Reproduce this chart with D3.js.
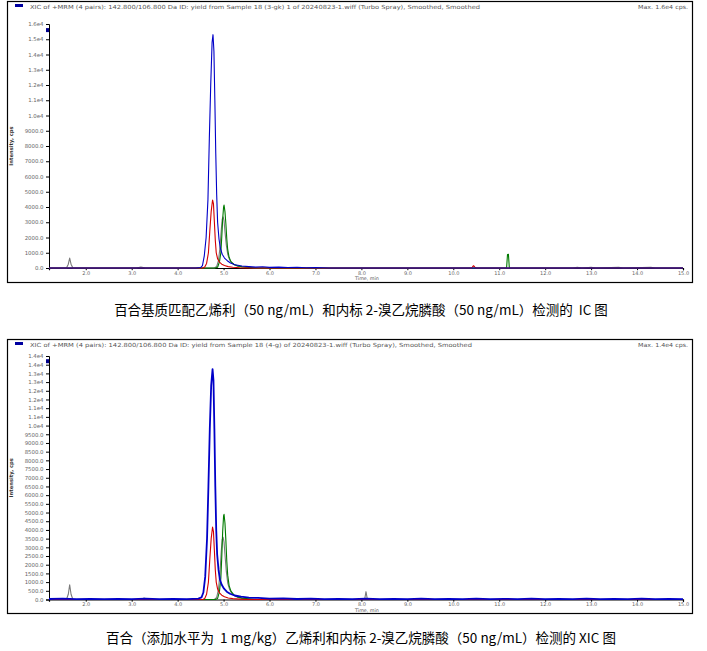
<!DOCTYPE html>
<html><head><meta charset="utf-8">
<script src="https://cdn.jsdelivr.net/npm/d3@7"></script>
<style>body{margin:0;background:#fff}svg{display:block}.cap{white-space:pre}</style>
</head><body>
<svg id="c" width="707" height="651"></svg>
<script>
// ---------- data (time in min, intensity in cps) ----------
const xTickValues = [2,3,4,5,6,7,8,9,10,11,12,13,14,15];
const xTickLabels = ["2.0","3.0","4.0","5.0","6.0","7.0","8.0","9.0","10.0","11.0","12.0","13.0","14.0","15.0"];

const topYTicks = [0,1000,2000,3000,4000,5000,6000,7000,8000,9000,10000,11000,12000,13000,14000,15000,16000];
const topYLabels = ["0.0","1000.0","2000.0","3000.0","4000.0","5000.0","6000.0","7000.0","8000.0","9000.0","1.0e4","1.1e4","1.2e4","1.3e4","1.4e4","1.5e4","1.6e4"];
const botYTicks = [0,500,1000,1500,2000,2500,3000,3500,4000,4500,5000,5500,6000,6500,7000,7500,8000,8500,9000,9500,10000,10500,11000,11500,12000,12500,13000,13500,14000];
const botYLabels = ["0.0","500.0","1000.0","1500.0","2000.0","2500.0","3000.0","3500.0","4000.0","4500.0","5000.0","5500.0","6000.0","6500.0","7000.0","7500.0","8000.0","8500.0","9000.0","9500.0","1.0e4","1.1e4","1.1e4","1.2e4","1.2e4","1.3e4","1.3e4","1.4e4","1.4e4"];

const headerTexts = [
  "XIC of +MRM (4 pairs): 142.800/106.800 Da ID: yield from Sample 18 (3-gk) 1 of 20240823-1.wiff (Turbo Spray), Smoothed, Smoothed",
  "XIC of +MRM (4 pairs): 142.800/106.800 Da ID: yield from Sample 18 (4-g) of 20240823-1.wiff (Turbo Spray), Smoothed, Smoothed"
];
const maxTexts = ["Max. 1.6e4 cps.", "Max. 1.4e4 cps."];
const maxMarkers = [15600, 13700];
const captions = [
  "百合基质匹配乙烯利（50 ng/mL）和内标 2-溴乙烷膦酸（50 ng/mL）检测的  IC 图",
  "百合（添加水平为  1 mg/kg）乙烯利和内标 2-溴乙烷膦酸（50 ng/mL）检测的 XIC 图"
];

// top panel traces
const topBlue = [[1.2,0],[4.40,0],[4.50,30],[4.54,150],[4.58,800],[4.62,2000],[4.66,4500],[4.69,8500],[4.72,12000],[4.75,14800],[4.77,15300],[4.79,14200],[4.81,11000],[4.83,7500],[4.85,4800],[4.87,3000],[4.90,1900],[4.93,1300],[4.97,900],[5.02,650],[5.08,480],[5.15,330],[5.25,210],[5.40,130],[5.55,90],[5.70,60],[5.85,80],[6.0,40],[6.2,60],[6.4,30],[6.6,50],[6.8,20],[7.0,30],[7.3,0],[15,0]];
const topRed = [[1.2,0],[4.55,0],[4.59,60],[4.63,300],[4.67,1000],[4.70,2400],[4.73,3700],[4.76,4460],[4.78,4200],[4.80,3000],[4.82,1800],[4.84,1000],[4.87,600],[4.91,380],[4.96,250],[5.02,160],[5.10,90],[5.20,50],[5.35,20],[5.5,0],[10.40,0],[10.44,150],[10.47,60],[10.50,0],[15,0]];
const topGreen = [[1.2,0],[4.82,0],[4.87,50],[4.91,400],[4.94,1000],[4.96,2000],[4.98,3200],[5.00,4000],[5.01,4130],[5.03,3700],[5.05,2900],[5.07,1900],[5.09,1200],[5.12,700],[5.16,420],[5.22,250],[5.30,140],[5.40,80],[5.55,40],[5.7,0],[11.16,0],[11.18,880],[11.20,900],[11.22,0],[15,0]];
const topGray = [[1.2,0],[1.58,0],[1.62,250],[1.65,650],[1.68,250],[1.72,0],[3.1,0],[3.2,60],[3.3,0],[4.80,0],[4.85,100],[4.89,500],[4.92,1300],[4.95,2500],[4.97,3200],[4.99,3350],[5.01,3100],[5.03,2400],[5.06,1500],[5.09,900],[5.13,550],[5.18,330],[5.25,180],[5.35,90],[5.5,30],[5.7,0],[12.6,0],[12.7,40],[12.8,0],[13.0,50],[13.1,0],[13.6,40],[13.7,0],[14.3,40],[14.4,0],[15,0]];

// bottom panel traces
const botBlue = [[1.2,30],[1.5,45],[1.8,25],[2.1,40],[2.4,20],[2.7,40],[3.0,25],[3.3,45],[3.6,20],[3.9,40],[4.2,25],[4.45,50],[4.52,120],[4.56,400],[4.60,1300],[4.64,3500],[4.67,6500],[4.70,9800],[4.73,12300],[4.76,13250],[4.78,12600],[4.80,9800],[4.82,6500],[4.84,4000],[4.86,2600],[4.89,1700],[4.92,1150],[4.96,850],[5.01,620],[5.07,450],[5.14,330],[5.24,230],[5.38,160],[5.55,110],[5.75,90],[6.0,50],[6.3,60],[6.6,30],[6.9,45],[7.2,20],[7.5,40],[7.8,25],[8.1,45],[8.4,20],[8.7,40],[9.0,25],[9.3,45],[9.6,20],[9.9,40],[10.2,25],[10.5,45],[10.8,20],[11.1,40],[11.4,25],[11.7,45],[12.0,20],[12.3,40],[12.6,25],[12.9,45],[13.2,20],[13.5,40],[13.8,25],[14.1,45],[14.4,20],[14.7,40],[15,25]];
const botRed = [[1.2,0],[4.55,0],[4.59,60],[4.63,300],[4.67,1000],[4.70,2300],[4.73,3500],[4.76,4160],[4.78,3900],[4.80,2800],[4.82,1700],[4.84,1000],[4.87,600],[4.91,380],[4.96,250],[5.02,160],[5.10,90],[5.20,50],[5.35,20],[5.5,0],[15,0]];
const botGreen = [[1.2,0],[4.82,0],[4.87,60],[4.91,450],[4.94,1200],[4.96,2400],[4.98,3900],[5.00,4800],[5.01,4900],[5.03,4400],[5.05,3400],[5.07,2200],[5.09,1400],[5.12,800],[5.16,480],[5.22,280],[5.30,150],[5.40,80],[5.55,40],[5.7,0],[15,0]];
const botGray = [[1.2,0],[1.58,0],[1.62,300],[1.65,850],[1.68,300],[1.72,0],[3.2,0],[3.27,80],[3.35,0],[4.80,0],[4.85,120],[4.89,600],[4.92,1500],[4.95,2800],[4.97,3450],[4.99,3580],[5.01,3300],[5.03,2600],[5.06,1600],[5.09,950],[5.13,580],[5.18,350],[5.25,190],[5.35,90],[5.5,30],[5.7,0],[8.07,0],[8.10,450],[8.13,0],[15,0]];

// ---------- drawing ----------
const svg = d3.select("#c");
const colors = {blue:"#0000c8", red:"#d40000", green:"#007a00", gray:"#7a7a7a"};
const panels = [
  {top:1, bottom:282, y0:268, y1:24, ymax:16000, ticks:topYTicks, labels:topYLabels,
   series:[["gray",topGray],["green",topGreen],["red",topRed],["blue",topBlue]], cap:310},
  {top:339, bottom:613, y0:599.5, y1:356, ymax:14000, ticks:botYTicks, labels:botYLabels,
   series:[["gray",botGray],["green",botGreen],["red",botRed],["blue",botBlue]], cap:638}
];
const x = d3.scaleLinear().domain([1.2, 15]).range([49, 683]);
const tickFont = "DejaVu Sans, Verdana, sans-serif";

panels.forEach((p, i) => {
  const g = svg.append("g");
  g.append("rect").attr("x", 7.5).attr("y", p.top + 0.5).attr("width", 685).attr("height", p.bottom - p.top)
    .attr("fill", "none").attr("stroke", "#000").attr("stroke-width", 1.2);
  g.append("rect").attr("x", 15).attr("y", p.top + 3).attr("width", 8).attr("height", 3).attr("fill", "#0000a0");
  g.append("text").attr("x", 30).attr("y", p.top + 7.5).attr("font-family", tickFont).attr("font-size", 5.6)
    .attr("fill", "#555").attr("textLength", i === 0 ? 450 : 442).attr("lengthAdjust", "spacingAndGlyphs").text(headerTexts[i]);
  g.append("text").attr("x", 688).attr("y", p.top + 7.5).attr("text-anchor", "end").attr("font-family", tickFont)
    .attr("font-size", 5.6).attr("fill", "#555").attr("textLength", 50).attr("lengthAdjust", "spacingAndGlyphs").text(maxTexts[i]);

  const y = d3.scaleLinear().domain([0, p.ymax]).range([p.y0, p.y1]);

  const yAxis = d3.axisLeft(y).tickValues(p.ticks).tickFormat((d, k) => p.labels[k]).tickSize(3).tickPadding(2.5);
  const ya = g.append("g").attr("transform", `translate(${x.range()[0]},0)`).call(yAxis);
  ya.select(".domain").attr("stroke", "#000").attr("stroke-width", 1);
  ya.selectAll("text").attr("font-family", tickFont).attr("font-size", 5.4).attr("fill", "#666");

  const xAxis = d3.axisBottom(x).tickValues(xTickValues).tickFormat((d, k) => xTickLabels[k]).tickSize(2.2).tickPadding(0.8);
  const xa = g.append("g").attr("transform", `translate(0,${p.y0})`).call(xAxis);
  xa.select(".domain").attr("stroke", "#000").attr("stroke-width", 1.2);
  xa.selectAll("text").attr("font-family", tickFont).attr("font-size", 5).attr("fill", "#666");

  g.append("text").attr("x", 367).attr("y", p.y0 + 12.2).attr("text-anchor", "middle")
    .attr("font-family", tickFont).attr("font-size", 4.8).attr("fill", "#555").text("Time, min");
  g.append("text").attr("transform", `translate(12.5,${(p.y0 + p.y1) / 2}) rotate(-90)`).attr("text-anchor", "middle")
    .attr("font-family", tickFont).attr("font-size", 5.2).attr("font-weight", "bold").attr("fill", "#333").text("Intensity, cps");

  g.append("rect").attr("x", 46).attr("y", y(maxMarkers[i]) - 2).attr("width", 3).attr("height", 4).attr("fill", "#00008b");

  const line = d3.line().x(d => x(d[0])).y(d => y(d[1]));
  p.series.forEach(([c, data]) => {
    g.append("path").datum(data).attr("d", line).attr("fill", "none")
      .attr("stroke", colors[c]).attr("stroke-width", c === "blue" && i === 1 ? 1.8 : 1.1)
      .attr("stroke-linejoin", "round");
  });

  svg.append("text").attr("class", "cap").attr("xml:space", "preserve").attr("x", 361).attr("y", p.cap + 5).attr("text-anchor", "middle")
    .attr("font-family", "Noto Sans CJK SC, sans-serif").attr("font-size", 13.5).attr("fill", "#000").text(captions[i]);
});
</script>
</body></html>
